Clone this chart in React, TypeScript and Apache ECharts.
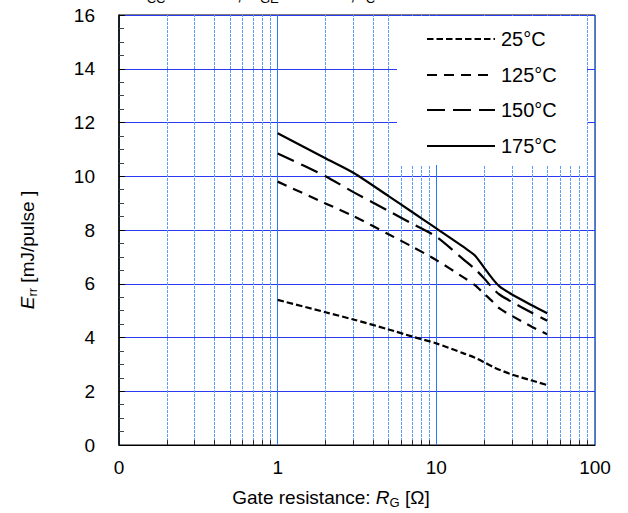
import React, { useEffect, useRef } from "react";
import * as echarts from "echarts";

const rg = [1, 2, 3, 5, 7, 10, 15, 17.5, 20, 22.5, 25, 30, 40, 50];
const e25 = [5.4, 4.94, 4.67, 4.3, 4.04, 3.78, 3.4, 3.25, 3.08, 2.92, 2.8, 2.62, 2.4, 2.23];
const e125 = [9.8, 8.99, 8.52, 7.84, 7.39, 6.88, 6.22, 5.95, 5.63, 5.35, 5.08, 4.8, 4.4, 4.12];
const e150 = [10.85, 10.0, 9.41, 8.71, 8.24, 7.75, 6.88, 6.55, 6.2, 5.85, 5.6, 5.32, 4.92, 4.62];
const e175 = [11.6, 10.67, 10.13, 9.26, 8.68, 8.06, 7.35, 7.05, 6.6, 6.2, 5.9, 5.6, 5.2, 4.9];
const seriesNames = ["25°C", "125°C", "150°C", "175°C"];
const minorX = [0.2, 0.3, 0.4, 0.5, 0.6, 0.7, 0.8, 0.9, 2, 3, 4, 5, 6, 7, 8, 9, 20, 30, 40, 50, 60, 70, 80, 90];
const yTicks = [0, 2, 4, 6, 8, 10, 12, 14, 16];

const FONT = "'Liberation Sans', Arial, Helvetica, sans-serif";
const dashes: (number[] | "solid")[] = [[6.5, 3], [10, 7], [18, 8], "solid"];
const values = [e25, e125, e150, e175];

export default function App() {
  const ref = useRef<HTMLDivElement>(null);
  useEffect(() => {
    if (!ref.current) return;
    const chart = echarts.init(ref.current, undefined, { renderer: "svg" });
    const dataSeries = seriesNames.map((name, i) => ({
      name,
      type: "line",
      z: 5,
      data: rg.map((x, j) => [x, values[i][j]]),
      smooth: 0.25,
      symbol: "none",
      lineStyle: { color: "#000", width: 2.2, type: dashes[i] },
      silent: true,
    }));
    const legendY = [39, 75, 110, 146];
    const graphic: any[] = [
      {
        type: "rect",
        z: 50,
        shape: { x: 397, y: 16, width: 190, height: 149 },
        style: { fill: "#fff" },
      },
      ...seriesNames.flatMap((name, i) => [
        {
          type: "line",
          z: 51,
          shape: { x1: 427, y1: legendY[i], x2: 495, y2: legendY[i] },
          style: {
            stroke: "#000",
            lineWidth: 2.2,
            lineDash: dashes[i] === "solid" ? null : dashes[i],
          },
        },
        {
          type: "text",
          z: 51,
          x: 501,
          y: legendY[i],
          style: {
            text: name,
            fill: "#000",
            font: `20px ${FONT}`,
            textAlign: "left",
            textVerticalAlign: "middle",
          },
        },
      ]),
      {
        type: "text",
        x: 27,
        y: 250,
        rotation: Math.PI / 2,
        style: {
          text: "{i|E}{s|rr}{n| [mJ/pulse ]}",
          textAlign: "center",
          textVerticalAlign: "middle",
          fill: "#000",
          rich: {
            i: { fontSize: 19, fontStyle: "italic", fontFamily: FONT, lineHeight: 24, verticalAlign: "middle" },
            s: { fontSize: 13, fontFamily: FONT, verticalAlign: "bottom" },
            n: { fontSize: 19, fontFamily: FONT, lineHeight: 24, verticalAlign: "middle" },
          },
        },
      },
      {
        type: "text",
        x: 331,
        y: 497,
        style: {
          text: "{n|Gate resistance: }{i|R}{s|G}{n| [Ω]}",
          textAlign: "center",
          textVerticalAlign: "middle",
          fill: "#000",
          rich: {
            i: { fontSize: 19, fontStyle: "italic", fontFamily: FONT, lineHeight: 24, verticalAlign: "middle" },
            s: { fontSize: 13, fontFamily: FONT, verticalAlign: "bottom" },
            n: { fontSize: 19, fontFamily: FONT, lineHeight: 24, verticalAlign: "middle" },
          },
        },
      },
      {
        type: "text",
        x: 134,
        y: -7,
        style: {
          text: "{n|V}{s|CC}{n| = 600V , V}{s|GE}{n| = ±15V , I}{s|C}{n| = 600A}",
          textAlign: "left",
          textVerticalAlign: "middle",
          fill: "#000",
          rich: {
            s: { fontSize: 13, fontFamily: FONT, verticalAlign: "bottom" },
            n: { fontSize: 19, fontFamily: FONT, lineHeight: 24, verticalAlign: "middle" },
          },
        },
      },
    ];
    chart.setOption({
      animation: false,
      grid: {
        left: 119,
        right: 33,
        top: 15,
        bottom: 68,
        show: true,
        borderColor: "#000",
        borderWidth: 1,
        backgroundColor: "#fff",
      },
      xAxis: {
        type: "log",
        logBase: 10,
        min: 0.1,
        max: 100,
        axisLine: { show: true, lineStyle: { color: "#000", width: 1 } },
        axisTick: { show: false },
        axisLabel: {
          color: "#000",
          fontSize: 19,
          fontFamily: FONT,
          margin: 13,
          formatter: (v: number) => (v < 0.5 ? "0" : String(Math.round(v))),
        },
        splitLine: { show: true, lineStyle: { color: "#2a78ff", width: 1 } },
      },
      yAxis: {
        type: "value",
        min: yTicks[0],
        max: yTicks[yTicks.length - 1],
        interval: 2,
        axisLine: { show: true, lineStyle: { color: "#000", width: 1.5 } },
        axisTick: { show: true, inside: true, length: 6, lineStyle: { color: "#000" } },
        minorTick: { show: true, splitNumber: 4, length: 5, lineStyle: { color: "#444" } },
        axisLabel: { color: "#000", fontSize: 19, fontFamily: FONT, margin: 24 },
        splitLine: { show: true, lineStyle: { color: "#2b3af0", width: 1 } },
      },
      series: [
        {
          type: "line",
          z: 1,
          data: [[1, 0]],
          symbol: "none",
          lineStyle: { width: 0 },
          itemStyle: { color: "#5a9cff" },
          silent: true,
          markLine: {
            silent: true,
            symbol: ["none", "none"],
            label: { show: false },
            itemStyle: { color: "#5a9cff" },
            lineStyle: { color: "#5a9cff", width: 1, type: [3, 1] },
            emphasis: { disabled: true },
            data: minorX.map((x) => ({ xAxis: x })),
          },
        },
        {
          type: "line",
          z: 2,
          data: [[1, 0]],
          symbol: "none",
          lineStyle: { width: 0 },
          silent: true,
          markLine: {
            silent: true,
            symbol: ["none", "none"],
            label: { show: false },
            lineStyle: { color: "#223", width: 1, type: "solid" },
            emphasis: { disabled: true },
            data: minorX.map((x) => [{ coord: [x, 0] }, { coord: [x, 0.18] }]),
          },
        },
        ...dataSeries,
      ],
      graphic,
    });
    return () => chart.dispose();
  }, []);
  return <div ref={ref} style={{ width: 628, height: 513, position: "absolute", left: 0, top: 0 }} />;
}
